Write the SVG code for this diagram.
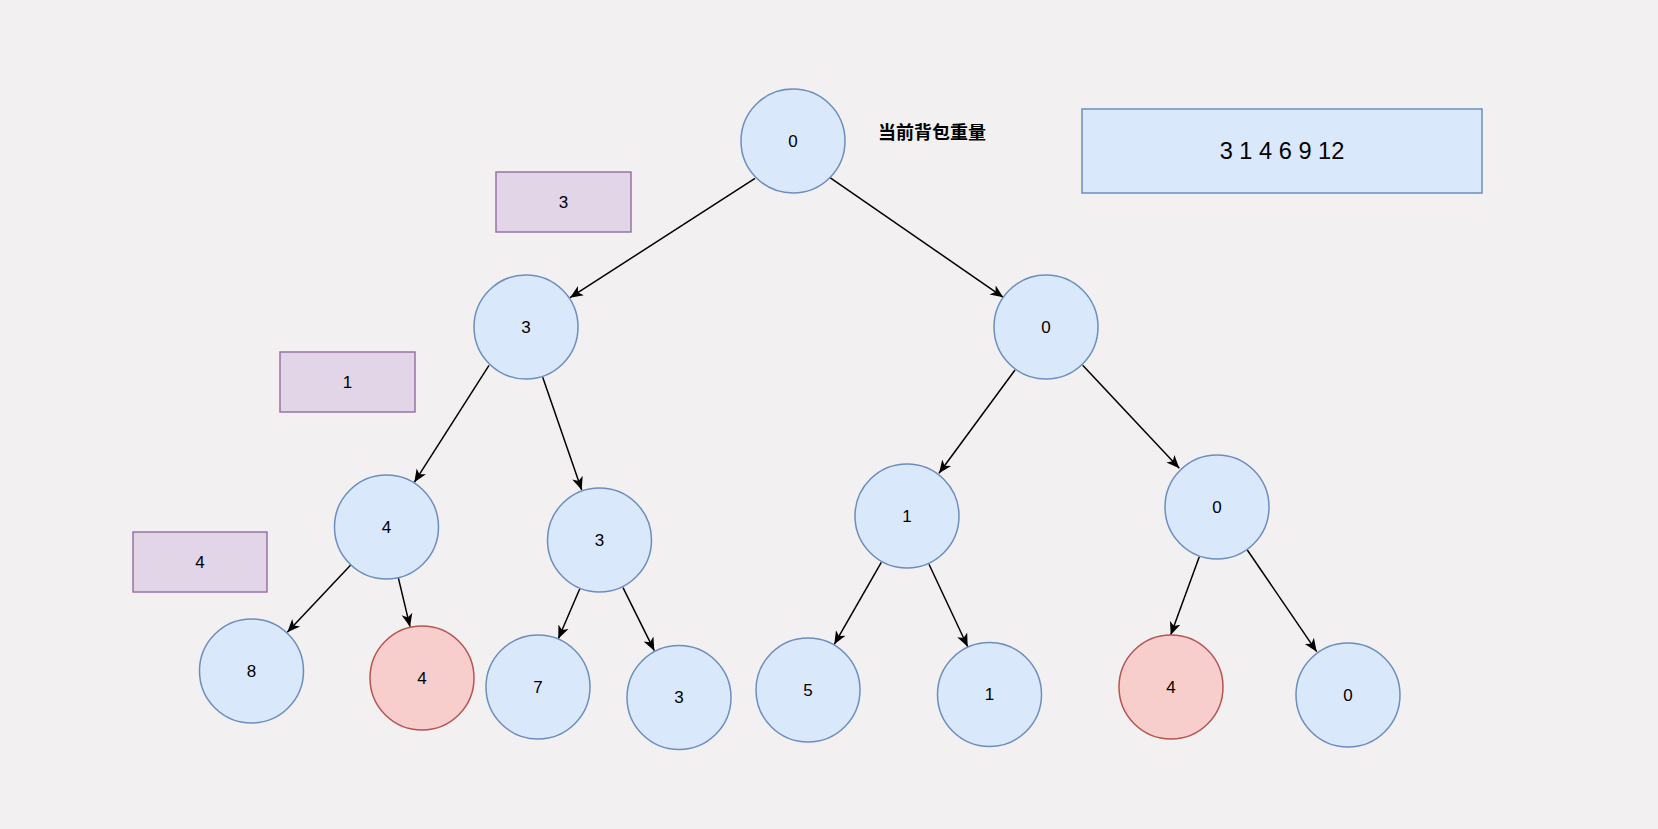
<svg xmlns="http://www.w3.org/2000/svg" width="1658" height="829" viewBox="0 0 1658 829">
<style>
.bg{fill:#f2f0f1}
.n{fill:#dae8fc;stroke:#6c8ebf;stroke-width:1.5}
.r{fill:#f8cecc;stroke:#b85450;stroke-width:1.5}
.p{fill:#e1d5e7;stroke:#9673a6;stroke-width:1.5}
.t{font-family:"Liberation Sans",Arial,sans-serif;font-size:17px;fill:#000;text-anchor:middle;dominant-baseline:central}
.big{font-size:23.6px}
.cn{font-family:"Liberation Sans","Noto Sans CJK SC",sans-serif;font-size:18px;font-weight:bold;fill:#000;text-anchor:middle;dominant-baseline:central}
.e{stroke:#000;stroke-width:1.5;fill:none;marker-end:url(#arr)}
</style>
<defs>
<marker id="arr" markerUnits="userSpaceOnUse" markerWidth="14" markerHeight="14" viewBox="0 0 14 14" refX="13" refY="7" orient="auto">
<path d="M0,1.5 L13,7 L0,12.5 L3.5,7 Z" fill="#000"/>
</marker>
</defs>
<rect class="bg" x="0" y="0" width="1658" height="829"/>

<g id="connectors">
<line class="e" x1="755" y1="178.3" x2="570" y2="297.7"/>
<line class="e" x1="830" y1="177.7" x2="1003.3" y2="297.3"/>
<line class="e" x1="489" y1="365.3" x2="414.3" y2="482.3"/>
<line class="e" x1="542.7" y1="377.3" x2="581.7" y2="490"/>
<line class="e" x1="1015" y1="370" x2="939" y2="473.3"/>
<line class="e" x1="1082.7" y1="365.3" x2="1179.3" y2="468.3"/>
<line class="e" x1="350.7" y1="565" x2="287.3" y2="632.3"/>
<line class="e" x1="398.3" y1="577.7" x2="410" y2="626.7"/>
<line class="e" x1="579.7" y1="589" x2="558.3" y2="638.7"/>
<line class="e" x1="623" y1="587.7" x2="654.3" y2="650.7"/>
<line class="e" x1="881.3" y1="562.3" x2="834.3" y2="644.3"/>
<line class="e" x1="929" y1="564.3" x2="967.7" y2="646.7"/>
<line class="e" x1="1199.3" y1="556.7" x2="1170.7" y2="635"/>
<line class="e" x1="1247.3" y1="550" x2="1316.7" y2="651.7"/>
</g>

<g id="root"><circle class="n" cx="793" cy="141" r="52"/><text class="t" x="793" y="141">0</text></g>
<g id="title"><text class="cn" x="932" y="133">当前背包重量</text></g>
<g id="items"><rect class="n" x="1082" y="109" width="400" height="84"/><text class="t big" x="1282" y="151">3 1 4 6 9 12</text></g>

<g id="label3"><rect class="p" x="496" y="172" width="135" height="60"/><text class="t" x="563.5" y="202">3</text></g>
<g id="label1"><rect class="p" x="280" y="352" width="135" height="60"/><text class="t" x="347.5" y="382">1</text></g>
<g id="label4"><rect class="p" x="133" y="532" width="134" height="60"/><text class="t" x="200" y="562">4</text></g>

<g id="n_l2_left"><circle class="n" cx="526" cy="327" r="52"/><text class="t" x="526" y="327">3</text></g>
<g id="n_l2_right"><circle class="n" cx="1046" cy="327" r="52"/><text class="t" x="1046" y="327">0</text></g>

<g id="n_l3_a"><circle class="n" cx="386.5" cy="527" r="52"/><text class="t" x="386.5" y="527">4</text></g>
<g id="n_l3_b"><circle class="n" cx="599.5" cy="540" r="52"/><text class="t" x="599.5" y="540">3</text></g>
<g id="n_l3_c"><circle class="n" cx="907" cy="516" r="52"/><text class="t" x="907" y="516">1</text></g>
<g id="n_l3_d"><circle class="n" cx="1217" cy="507" r="52"/><text class="t" x="1217" y="507">0</text></g>

<g id="n_l4_a"><circle class="n" cx="251.5" cy="671" r="52"/><text class="t" x="251.5" y="671">8</text></g>
<g id="n_l4_b"><circle class="r" cx="422" cy="678" r="52"/><text class="t" x="422" y="678">4</text></g>
<g id="n_l4_c"><circle class="n" cx="538" cy="687" r="52"/><text class="t" x="538" y="687">7</text></g>
<g id="n_l4_d"><circle class="n" cx="679" cy="697.5" r="52"/><text class="t" x="679" y="697.5">3</text></g>
<g id="n_l4_e"><circle class="n" cx="808" cy="690" r="52"/><text class="t" x="808" y="690">5</text></g>
<g id="n_l4_f"><circle class="n" cx="989.5" cy="694.5" r="52"/><text class="t" x="989.5" y="694.5">1</text></g>
<g id="n_l4_g"><circle class="r" cx="1171" cy="687" r="52"/><text class="t" x="1171" y="687">4</text></g>
<g id="n_l4_h"><circle class="n" cx="1348" cy="695" r="52"/><text class="t" x="1348" y="695">0</text></g>
</svg>
